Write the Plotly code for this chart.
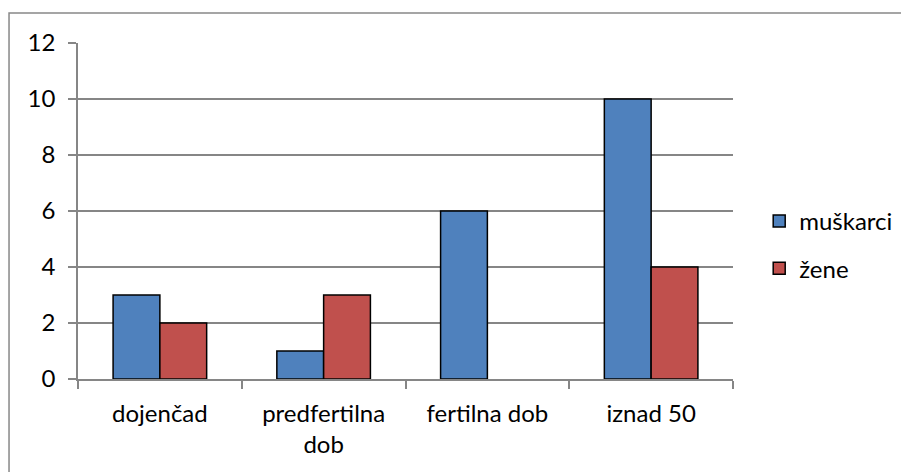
import plotly.graph_objects as go

categories = ["dojenčad", "predfertilna<br>dob", "fertilna dob", "iznad 50"]
muskarci = [3, 1, 6, 10]
zene = [2, 3, None, 4]
series_names = ["muškarci", "žene"]
y_ticks = [0, 2, 4, 6, 8, 10, 12]

FONT = "Lato"
W, H = 901, 464
L, T = 70, 35
R = W - 725
B = H - 371

fig = go.Figure()
fig.add_trace(go.Bar(x=categories, y=muskarci, name=series_names[0], legendgroup="a",
                     marker=dict(color="#4f81bd", line=dict(color="#000000", width=1.5))))
fig.add_trace(go.Bar(x=categories, y=zene, name=series_names[1], legendgroup="b",
                     marker=dict(color="#c0504d", line=dict(color="#000000", width=1.5))))

fig.update_layout(
    width=W, height=H,
    margin=dict(l=L, r=R, t=T, b=B, autoexpand=False),
    paper_bgcolor="white", plot_bgcolor="white",
    barmode="group", bargap=0.4286, bargroupgap=0,
    font=dict(family=FONT, size=24, color="#000000"),
    showlegend=True,
    legend=dict(x=1.04, y=0.399, xanchor="left", yanchor="middle",
                tracegroupgap=13, font=dict(size=24), bgcolor="rgba(0,0,0,0)"),
    xaxis=dict(showline=True, linecolor="#868686", linewidth=1.5,
               ticks="outside", tickson="boundaries", ticklen=8, tickcolor="#868686",
               tickwidth=1.5, showgrid=False, range=[-0.5, 3.5], ticklabelstandoff=12),
    yaxis=dict(range=[0, 12], tickvals=y_ticks, showline=True, linecolor="#868686",
               linewidth=1.5, ticks="outside", ticklen=8, tickcolor="#868686",
               tickwidth=1.5, showgrid=True, gridcolor="#868686", gridwidth=1.5,
               zeroline=False, ticklabelstandoff=8),
)
fig.add_shape(type="rect", xref="paper", yref="paper",
              x0=-0.1053, x1=1.3, y0=-0.35, y1=1.0893,
              line=dict(color="#888888", width=1.5), layer="below")
fig.write_html("out.html")
